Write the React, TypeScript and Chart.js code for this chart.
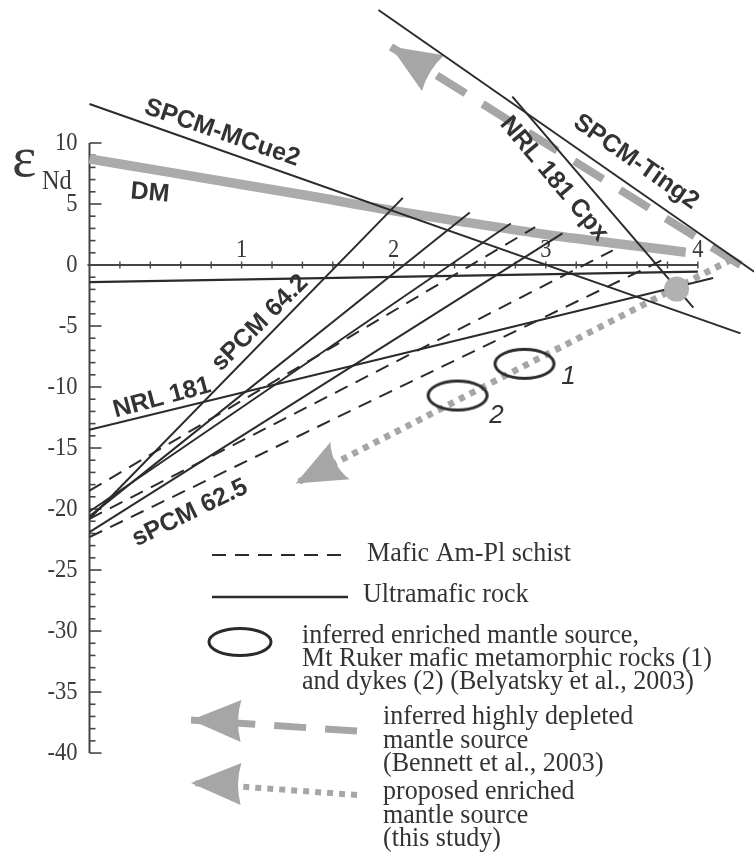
import React, { useEffect, useRef } from "react";
import { Chart, registerables } from "chart.js";

Chart.register(...registerables);

// ---------------- data (age in Ga, epsilon Nd) ----------------
const X_TICK_VALUES = [1, 2, 3, 4];
const X_TICK_LABELS = ["1", "2", "3", "4"];
const Y_TICK_VALUES = [10, 5, 0, -5, -10, -15, -20, -25, -30, -35, -40];
const Y_TICK_LABELS = ["10", "5", "0", "-5", "-10", "-15", "-20", "-25", "-30", "-35", "-40"];

// depleted mantle curve
const dmAge = [0, 0.5, 1.0, 1.5, 1.9, 2.5, 3.0, 3.5, 3.92];
const dmEps = [8.7, 7.65, 6.6, 5.55, 4.65, 3.45, 2.5, 1.7, 1.05];

// ultramafic rock evolution lines (solid): from age 0 to end age
const ultramaficEndAge = [2.06, 2.5, 2.77, 3.11];
const ultramaficEpsAtZero = [-20.8, -20.6, -20.2, -21.9];
const ultramaficEpsAtEnd = [5.5, 4.3, 3.4, 2.6];

// mafic Am-Pl schist evolution lines (dashed)
const maficEndAge = [2.93, 3.44, 3.81];
const maficEpsAtZero = [-18.5, -20.8, -22.3];
const maficEpsAtEnd = [3.1, 1.2, 0.66];

// named sample lines
const mcue2Age = [0, 4.28];
const mcue2Eps = [13.2, -5.6];
const ting2Age = [1.9, 4.37];
const ting2Eps = [20.9, -0.55];
const nrlCpxAge = [2.78, 3.97];
const nrlCpxEps = [13.8, -3.5];
const nrl181Age = [0, 4.1];
const nrl181Eps = [-13.5, -1.07];
const flatAge = [0, 4.0];
const flatEps = [-1.4, -0.55];

// mantle-source arrows (tail -> tip)
const depletedAge = [4.28, 1.98];
const depletedEps = [0.0, 17.9];
const enrichedAge = [4.22, 1.355];
const enrichedEps = [0.45, -17.9];

// inferred enriched mantle sources (ellipses) and their labels
const sourceAge = [2.86, 2.42];
const sourceEps = [-8.1, -10.7];
const sourceLabels = ["1", "2"];

// grey model point
const modelAge = [3.86];
const modelEps = [-1.97];

// ---------------- styling ----------------
const LINE = "#2b2b2b";
const GRAY_BAND = "#ababab";
const GRAY_ARROW = "#a6a6a6";
const TEXT = "#333333";
const SERIF = '"Liberation Serif", "Times New Roman", serif';
const SANS = '"Liberation Sans", Arial, sans-serif';

const pts = (ax: number[], ay: number[]) => ax.map((x, i) => ({ x, y: ay[i] }));

function drawText(
  ctx: CanvasRenderingContext2D,
  s: string,
  x: number,
  y: number,
  font: string,
  align: CanvasTextAlign = "left",
  baseline: CanvasTextBaseline = "alphabetic",
  angle = 0,
  color = TEXT,
  sx = 1
) {
  ctx.save();
  ctx.translate(x, y);
  if (angle) ctx.rotate((angle * Math.PI) / 180);
  if (sx !== 1) ctx.scale(sx, 1);
  ctx.font = font;
  ctx.fillStyle = color;
  ctx.textAlign = align;
  ctx.textBaseline = baseline;
  ctx.fillText(s, 0, 0);
  ctx.restore();
}

function drawHead(
  ctx: CanvasRenderingContext2D,
  tipX: number,
  tipY: number,
  fromX: number,
  fromY: number,
  color: string,
  notch = 4
) {
  const len = 50,
    half = 21;
  const a = Math.atan2(tipY - fromY, tipX - fromX);
  ctx.save();
  ctx.translate(tipX, tipY);
  ctx.rotate(a);
  ctx.beginPath();
  ctx.moveTo(0, 0);
  ctx.lineTo(-len, -half);
  ctx.quadraticCurveTo(-len + 2 * notch, 0, -len, half);
  ctx.closePath();
  ctx.fillStyle = color;
  ctx.fill();
  ctx.restore();
}

const axisPlugin = {
  id: "customAxes",
  beforeDatasetsDraw(chart: any) {
    const ctx: CanvasRenderingContext2D = chart.ctx;
    const xs = chart.scales.x;
    const ys = chart.scales.y;
    const x0 = xs.getPixelForValue(0);
    const y0 = ys.getPixelForValue(0);
    ctx.save();
    ctx.strokeStyle = "#454545";
    ctx.lineCap = "butt";
    // y axis
    ctx.lineWidth = 2;
    ctx.beginPath();
    ctx.moveTo(x0, ys.getPixelForValue(10));
    ctx.lineTo(x0, ys.getPixelForValue(-40));
    ctx.stroke();
    ctx.lineWidth = 1.6;
    for (let v = -40; v <= 10; v++) {
      const yy = ys.getPixelForValue(v);
      const len = v % 5 === 0 ? 12 : 6;
      ctx.beginPath();
      ctx.moveTo(x0, yy);
      ctx.lineTo(x0 + len, yy);
      ctx.stroke();
    }
    // x axis
    ctx.lineWidth = 2;
    ctx.beginPath();
    ctx.moveTo(x0 - 2, y0);
    ctx.lineTo(xs.getPixelForValue(4), y0);
    ctx.stroke();
    ctx.lineWidth = 1.4;
    for (let k = 1; k <= 20; k++) {
      const xx = xs.getPixelForValue(k * 0.2);
      ctx.beginPath();
      ctx.moveTo(xx, y0 - 3.5);
      ctx.lineTo(xx, y0 + 3.5);
      ctx.stroke();
    }
    ctx.restore();
    // tick labels
    const tf = `25px ${SERIF}`;
    Y_TICK_VALUES.forEach((v, i) => {
      drawText(ctx, Y_TICK_LABELS[i], x0 - 12, ys.getPixelForValue(v), tf, "right", "middle", 0, "#3a3a3a", 0.9);
    });
    X_TICK_VALUES.forEach((v, i) => {
      drawText(ctx, X_TICK_LABELS[i], xs.getPixelForValue(v), y0 - 8, tf, "center", "alphabetic", 0, "#3a3a3a", 0.9);
    });
    // axis title
    drawText(ctx, "\u03b5", 12, 176, `58px ${SERIF}`, "left", "alphabetic", 0, "#3a3a3a");
    drawText(ctx, "Nd", 42, 189, `27px ${SERIF}`, "left", "alphabetic", 0, "#3a3a3a", 0.9);
  },
};

const arrowPlugin = {
  id: "arrowHeads",
  afterDatasetDraw(chart: any, args: any) {
    const ds = chart.data.datasets[args.index];
    if (!ds || !ds.arrowHead) return;
    const els = args.meta.data;
    if (!els || els.length < 2) return;
    const a = els[els.length - 2];
    const b = els[els.length - 1];
    drawHead(chart.ctx, b.x, b.y, a.x, a.y, ds.borderColor, ds.headNotch || 4);
  },
};

const labelPlugin = {
  id: "labelsLegend",
  afterDraw(chart: any) {
    const ctx: CanvasRenderingContext2D = chart.ctx;
    const xs = chart.scales.x;
    const ys = chart.scales.y;
    const bold = `bold 25px ${SANS}`;
    drawText(ctx, "SPCM-MCue2", 222, 133, bold, "center", "middle", 19);
    drawText(ctx, "DM", 150, 193, bold, "center", "middle", 5);
    drawText(ctx, "SPCM-Ting2", 636, 162, bold, "center", "middle", 35);
    drawText(ctx, "NRL 181 Cpx", 554, 179, bold, "center", "middle", 50);
    drawText(ctx, "sPCM 64.2", 260, 323, bold, "center", "middle", -45);
    drawText(ctx, "NRL 181", 162, 398, bold, "center", "middle", -15);
    drawText(ctx, "sPCM 62.5", 190, 513, bold, "center", "middle", -26);

    // ellipse labels
    const offs = [
      [44, 13],
      [39, 20],
    ];
    sourceAge.forEach((a, i) => {
      const px = xs.getPixelForValue(a);
      const py = ys.getPixelForValue(sourceEps[i]);
      drawText(ctx, sourceLabels[i], px + offs[i][0], py + offs[i][1], `italic 26px ${SANS}`, "center", "middle");
    });

    // ---------- legend ----------
    ctx.save();
    ctx.strokeStyle = LINE;
    ctx.lineWidth = 2.2;
    ctx.setLineDash([14, 9]);
    ctx.beginPath();
    ctx.moveTo(212, 555);
    ctx.lineTo(349, 555);
    ctx.stroke();
    ctx.setLineDash([]);
    ctx.lineWidth = 2.6;
    ctx.beginPath();
    ctx.moveTo(212, 597);
    ctx.lineTo(348, 597);
    ctx.stroke();
    ctx.lineWidth = 3;
    ctx.beginPath();
    ctx.ellipse(240, 642, 31, 13.5, 0, 0, Math.PI * 2);
    ctx.stroke();

    // dashed grey arrow
    ctx.strokeStyle = GRAY_ARROW;
    ctx.lineWidth = 7;
    ctx.setLineDash([32, 19]);
    ctx.beginPath();
    ctx.moveTo(357, 731);
    ctx.lineTo(191, 720);
    ctx.stroke();
    // dotted grey arrow
    ctx.lineWidth = 6;
    ctx.setLineDash([6, 6]);
    ctx.beginPath();
    ctx.moveTo(357, 795);
    ctx.lineTo(191, 783);
    ctx.stroke();
    ctx.setLineDash([]);
    ctx.restore();
    drawHead(ctx, 191, 720, 357, 723, GRAY_ARROW, 3);
    drawHead(ctx, 191, 783, 357, 786, GRAY_ARROW, 3);

    const lf = `28px ${SERIF}`;
    const sx = 0.93;
    drawText(ctx, "Mafic Am-Pl schist", 367, 561, lf, "left", "alphabetic", 0, TEXT, sx);
    drawText(ctx, "Ultramafic rock", 363, 602, lf, "left", "alphabetic", 0, TEXT, sx);
    drawText(ctx, "inferred enriched mantle source,", 302, 643, lf, "left", "alphabetic", 0, TEXT, sx);
    drawText(ctx, "Mt Ruker mafic metamorphic rocks (1)", 302, 666, lf, "left", "alphabetic", 0, TEXT, sx);
    drawText(ctx, "and dykes (2) (Belyatsky et al., 2003)", 302, 689, lf, "left", "alphabetic", 0, TEXT, sx);
    drawText(ctx, "inferred highly depleted", 383, 724, lf, "left", "alphabetic", 0, TEXT, sx);
    drawText(ctx, "mantle source", 383, 748, lf, "left", "alphabetic", 0, TEXT, sx);
    drawText(ctx, "(Bennett et al., 2003)", 383, 771, lf, "left", "alphabetic", 0, TEXT, sx);
    drawText(ctx, "proposed enriched", 383, 799, lf, "left", "alphabetic", 0, TEXT, sx);
    drawText(ctx, "mantle source", 383, 823, lf, "left", "alphabetic", 0, TEXT, sx);
    drawText(ctx, "(this study)", 383, 846, lf, "left", "alphabetic", 0, TEXT, sx);
  },
};

function makeEllipse(rx: number, ry: number, lw: number) {
  const c = document.createElement("canvas");
  c.width = Math.ceil(2 * rx + lw + 4);
  c.height = Math.ceil(2 * ry + lw + 4);
  const g = c.getContext("2d")!;
  g.strokeStyle = LINE;
  g.lineWidth = lw;
  g.beginPath();
  g.ellipse(c.width / 2, c.height / 2, rx, ry, 0, 0, Math.PI * 2);
  g.stroke();
  return c;
}

export default function App() {
  const ref = useRef<HTMLCanvasElement>(null);

  useEffect(() => {
    const canvas = ref.current;
    if (!canvas) return;
    const ellipseImg = makeEllipse(29.5, 14.5, 3);
    const base = {
      pointRadius: 0,
      borderColor: LINE,
      borderWidth: 2,
      fill: false,
      tension: 0,
      borderCapStyle: "butt",
      order: 2,
    };
    const datasets: any[] = [];
    datasets.push({
      label: "model",
      data: pts(modelAge, modelEps),
      showLine: false,
      pointRadius: 12.5,
      pointBackgroundColor: "#b1b1b1",
      pointBorderWidth: 0,
      order: 0,
    });
    datasets.push({
      label: "enriched sources",
      data: pts(sourceAge, sourceEps),
      showLine: false,
      pointStyle: ellipseImg,
      pointRadius: 15,
      order: 1,
    });
    ultramaficEndAge.forEach((end, i) => {
      datasets.push({
        ...base,
        label: "Ultramafic rock " + (i + 1),
        data: pts([0, end], [ultramaficEpsAtZero[i], ultramaficEpsAtEnd[i]]),
      });
    });
    maficEndAge.forEach((end, i) => {
      datasets.push({
        ...base,
        label: "Mafic Am-Pl schist " + (i + 1),
        data: pts([0, end], [maficEpsAtZero[i], maficEpsAtEnd[i]]),
        borderDash: [14, 9],
      });
    });
    datasets.push({ ...base, label: "SPCM-MCue2", data: pts(mcue2Age, mcue2Eps) });
    datasets.push({ ...base, label: "SPCM-Ting2", data: pts(ting2Age, ting2Eps) });
    datasets.push({ ...base, label: "NRL 181 Cpx", data: pts(nrlCpxAge, nrlCpxEps) });
    datasets.push({ ...base, label: "NRL 181", data: pts(nrl181Age, nrl181Eps) });
    datasets.push({ ...base, label: "flat", data: pts(flatAge, flatEps), borderWidth: 2.2 });
    datasets.push({
      ...base,
      label: "DM",
      data: pts(dmAge, dmEps),
      borderColor: GRAY_BAND,
      borderWidth: 9.5,
      cubicInterpolationMode: "monotone",
      order: 3,
    });
    datasets.push({
      ...base,
      label: "inferred highly depleted mantle source",
      data: pts(depletedAge, depletedEps),
      borderColor: GRAY_ARROW,
      borderWidth: 8,
      borderDash: [34, 20],
      arrowHead: true,
      headNotch: 3,
      order: 3,
    });
    datasets.push({
      ...base,
      label: "proposed enriched mantle source",
      data: pts(enrichedAge, enrichedEps),
      borderColor: GRAY_ARROW,
      borderWidth: 6.5,
      borderDash: [6, 6],
      arrowHead: true,
      headNotch: 5,
      order: 3,
    });

    const chart = new Chart(canvas, {
      type: "line",
      data: { datasets },
      options: {
        responsive: false,
        animation: false,
        devicePixelRatio: 1,
        events: [],
        layout: { padding: 0, autoPadding: false },
        plugins: {
          legend: { display: false },
          tooltip: { enabled: false },
          title: { display: false },
        },
        scales: {
          x: { type: "linear", min: -0.5884, max: 4.3689, display: false },
          y: { type: "linear", min: -48.11, max: 21.72, display: false },
        },
      } as any,
      plugins: [axisPlugin, arrowPlugin, labelPlugin],
    } as any);
    return () => chart.destroy();
  }, []);

  return (
    <div style={{ position: "absolute", left: 0, top: 0, width: 754, height: 852, background: "#fff" }}>
      <canvas ref={ref} width={754} height={852} style={{ display: "block", width: 754, height: 852 }} />
    </div>
  );
}
